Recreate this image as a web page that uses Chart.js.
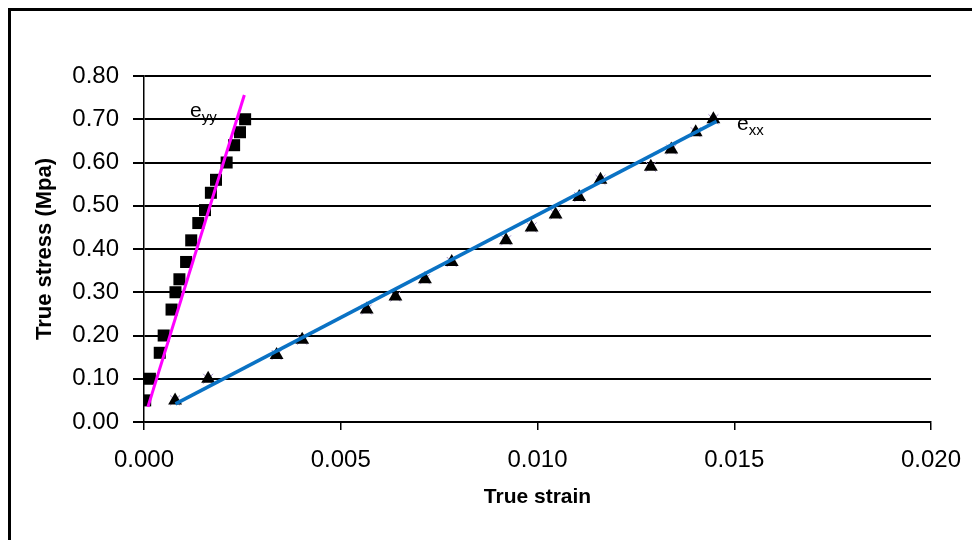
<!DOCTYPE html>
<html>
<head>
<meta charset="utf-8">
<script src="https://cdn.jsdelivr.net/npm/chart.js@4.4.0/dist/chart.umd.min.js"></script>
<style>
  body { margin: 0; background: #fff; }
  #wrap { width: 972px; height: 540px; position: relative; }
</style>
</head>
<body>
<div id="wrap"><canvas id="stressChart"></canvas></div>
<script>
// eyy readings (squares)
const eyyStrain = [0.00003, 0.00015, 0.0004, 0.0005, 0.0007, 0.0008, 0.0009, 0.00107, 0.0012, 0.00138,
                   0.00155, 0.0017, 0.00183, 0.0021, 0.00229, 0.00244, 0.00257];
const eyyStress = [0.05, 0.10, 0.16, 0.20, 0.26, 0.30, 0.33, 0.37, 0.42, 0.46,
                   0.49, 0.53, 0.56, 0.60, 0.64, 0.67, 0.70];
// exx readings (triangles)
const exxStrain = [0.00079, 0.00163, 0.00337, 0.00402, 0.00566, 0.00639, 0.00714, 0.00782, 0.0092, 0.00985,
                   0.01046, 0.01106, 0.0116, 0.01288, 0.0134, 0.01402, 0.01447];
const exxStress = [0.05, 0.10, 0.155, 0.19, 0.26, 0.29, 0.33, 0.37, 0.42, 0.45,
                   0.48, 0.52, 0.56, 0.59, 0.63, 0.67, 0.70];
// linear fit lines
const eyyFitX = [0.0001, 0.00255];
const eyyFitY = [0.035, 0.756];
const exxFitX = [0.0008, 0.01455];
const exxFitY = [0.042, 0.695];

const xTickLabels = ['0.000', '0.005', '0.010', '0.015', '0.020'];
const yTickLabels = ['0.00', '0.10', '0.20', '0.30', '0.40', '0.50', '0.60', '0.70', '0.80'];

function pts(xs, ys) {
    return xs.map(function (x, i) { return { x: x, y: ys[i] }; });
}

// outer frame (only top and left edges show in the picture)
const framePlugin = {
    id: 'frame',
    beforeDraw(chart) {
        const ctx = chart.ctx;
        ctx.save();
        ctx.fillStyle = '#fff';
        ctx.fillRect(0, 0, chart.width, chart.height);
        ctx.strokeStyle = '#000';
        ctx.lineWidth = 3;
        ctx.beginPath();
        ctx.moveTo(9.5, 540);
        ctx.lineTo(9.5, 9.5);
        ctx.lineTo(972, 9.5);
        ctx.stroke();
        ctx.restore();
    }
};

// e_yy and e_xx labels
const seriesLabels = [
    { main: 'e', sub: 'yy', x: 0.00117, y: 0.705 },
    { main: 'e', sub: 'xx', x: 0.01507, y: 0.675 }
];
const labelPlugin = {
    id: 'seriesLabels',
    afterDatasetsDraw(chart) {
        const ctx = chart.ctx;
        const xs = chart.scales.x, ys = chart.scales.y;
        ctx.save();
        ctx.fillStyle = '#000';
        ctx.textBaseline = 'alphabetic';
        seriesLabels.forEach(function (l) {
            const px = xs.getPixelForValue(l.x);
            const py = ys.getPixelForValue(l.y);
            ctx.font = '21px "Liberation Sans", Arial, sans-serif';
            ctx.fillText(l.main, px, py);
            const w = ctx.measureText(l.main).width;
            ctx.font = '15px "Liberation Sans", Arial, sans-serif';
            ctx.fillText(l.sub, px + w, py + 5);
        });
        ctx.restore();
    }
};

const ctx = document.getElementById('stressChart').getContext('2d');
new Chart(ctx, {
    type: 'scatter',
    data: {
        datasets: [
            {
                label: 'eyy fit',
                data: pts(eyyFitX, eyyFitY),
                showLine: true,
                borderColor: '#ff00ff',
                borderWidth: 3,
                pointRadius: 0,
                order: 1
            },
            {
                label: 'exx fit',
                data: pts(exxFitX, exxFitY),
                showLine: true,
                borderColor: '#0a72c4',
                borderWidth: 3.5,
                pointRadius: 0,
                order: 1
            },
            {
                label: 'eyy',
                data: pts(eyyStrain, eyyStress),
                pointStyle: 'rect',
                pointRadius: 8.5,
                backgroundColor: '#000',
                borderColor: '#000',
                borderWidth: 0,
                order: 2
            },
            {
                label: 'exx',
                data: pts(exxStrain, exxStress),
                pointStyle: 'triangle',
                pointRadius: 8,
                backgroundColor: '#000',
                borderColor: '#000',
                borderWidth: 0,
                order: 2
            },
            {
                label: 'exx cross',
                data: pts(exxStrain, exxStress),
                pointStyle: 'crossRot',
                pointRadius: 7,
                borderColor: '#a08cc8',
                borderWidth: 1,
                order: 3
            }
        ]
    },
    options: {
        responsive: true,
        maintainAspectRatio: false,
        animation: false,
        layout: {
            padding: { left: 0, right: 41, top: 76, bottom: 0 }
        },
        plugins: {
            legend: { display: false },
            tooltip: { enabled: false }
        },
        scales: {
            x: {
                type: 'linear',
                min: 0,
                max: 0.02,
                afterFit: function (s) {
                    s.height = 118;
                    s.paddingLeft = 0;
                    s.paddingRight = 0;
                },
                border: { color: '#000', width: 1.5 },
                grid: {
                    drawOnChartArea: false,
                    drawTicks: true,
                    tickLength: 8,
                    color: '#000',
                    lineWidth: 1.5
                },
                ticks: {
                    stepSize: 0.005,
                    padding: 16,
                    color: '#000',
                    font: { family: '"Liberation Sans", Arial, sans-serif', size: 24 },
                    callback: function (v, i) { return xTickLabels[i]; }
                },
                title: {
                    display: true,
                    text: 'True strain',
                    color: '#000',
                    padding: { top: 0, bottom: 30 },
                    font: { family: '"Liberation Sans", Arial, sans-serif', size: 21, weight: 'bold' }
                }
            },
            y: {
                min: 0,
                max: 0.8,
                afterFit: function (s) { s.width = 144; },
                border: { color: '#000', width: 1.5 },
                grid: {
                    color: '#000',
                    lineWidth: 2,
                    tickLength: 11
                },
                ticks: {
                    stepSize: 0.1,
                    padding: 14,
                    color: '#000',
                    font: { family: '"Liberation Sans", Arial, sans-serif', size: 24 },
                    callback: function (v, i) { return yTickLabels[i]; }
                },
                title: {
                    display: true,
                    text: 'True stress (Mpa)',
                    color: '#000',
                    padding: { top: 32, bottom: 0 },
                    font: { family: '"Liberation Sans", Arial, sans-serif', size: 22, weight: 'bold' }
                }
            }
        }
    },
    plugins: [framePlugin, labelPlugin]
});
</script>
</body>
</html>
